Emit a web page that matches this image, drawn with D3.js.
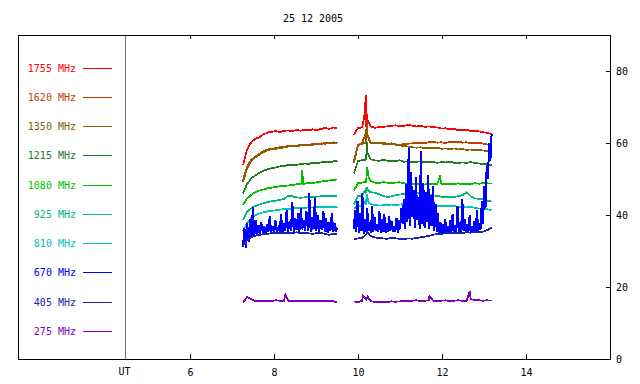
<!DOCTYPE html>
<html>
<head>
<meta charset="utf-8">
<script src="https://cdn.jsdelivr.net/npm/d3@7"></script>
<style>
  body { margin:0; background:#fff; }
  text { font-family:"DejaVu Sans Mono", monospace; font-size:10px; }
</style>
</head>
<body>
<div id="chart"></div>
<script>
// radio flux, 25 12 2005 -- two observing runs
let title = "25 12 2005"
let freqs  = ["1755","1620","1350","1215","1080","925","810","670","405","275"]
let colors = ["#ff0000","#c04000","#886000","#237a23","#00c000","#00b878","#00c0c0","#0000ff","#2020b0","#8000c0"]
let xTicks = [6,8,10,12,14]
let yTicks = [0,20,40,60,80]
let run1 = [7.26, 9.51]
let run2 = [9.90, 13.18]

// first run / second run samples
let f1755a = [53.8,58.2,60.2,61.2,61.6,62.4,62.9,63.1,63.3,63.0,63.4,63.5,63.3,63.6,63.4,63.7,63.5,63.8,63.6,63.9,64.2,63.9,64.3,64.0]
let f1755b = [62.3,64.2,64.3,64.4,64.6,64.2,64.4,64.5,64.6,64.8,64.9,64.7,64.8,65.0,64.8,64.6,64.7,64.5,64.6,64.4,64.3,64.0,64.1,63.8,63.9,63.6,63.5,63.7,63.3,63.4,63.2,63.0,62.8,62.5]
let f1620a = [49.6,53.5,55.3,56.3,57.0,57.8,58.2,58.4,58.6,58.8,59.0,59.1,59.0,59.3,59.4,59.5,59.4,59.7,59.8,59.7,60.0,60.1,59.9,60.2]
let f1620b = [55.0,59.5,60.0,60.4,60.2,60.0,60.1,60.0,59.8,59.9,59.6,59.5,59.7,59.8,59.9,60.0,60.1,60.0,60.2,60.3,60.1,60.2,60.0,60.3,60.2,60.4,60.1,60.2,60.0,59.9,60.1,59.8,59.6,59.4]
let f1350a = [49.2,53.0,55.0,56.0,56.8,57.5,58.0,58.3,58.4,58.6,58.8,59.0,59.2,59.1,59.3,59.5,59.6,59.5,59.7,59.9,59.8,60.0,60.2,60.0]
let f1350b = [54.5,59.3,59.8,60.2,60.0,59.9,60.0,59.8,59.7,59.8,59.5,59.3,59.2,59.0,58.8,58.7,58.8,58.6,58.7,58.5,58.6,58.4,58.5,58.3,58.5,58.2,58.3,58.1,58.2,58.0,58.1,57.9,57.8,57.6]
let f1215a = [46.0,48.6,50.2,51.0,51.7,52.3,52.7,53.0,53.2,53.5,53.6,53.9,54.0,53.9,54.1,54.3,54.2,54.5,54.4,54.6,54.7,54.6,54.9,55.0]
let f1215b = [51.5,55.0,55.2,55.4,55.5,55.2,55.0,55.3,55.1,54.9,55.0,55.2,54.8,54.9,54.7,54.8,54.9,54.6,54.8,54.7,54.5,54.7,54.6,54.8,54.5,54.4,54.6,54.5,54.7,54.4,54.3,54.2,54.1,53.8]
let f1080a = [42.8,44.6,45.6,46.3,46.8,47.1,47.4,47.6,47.8,48.0,48.1,48.2,48.3,48.5,48.6,48.7,48.9,48.9,49.1,49.3,49.4,49.6,49.7,49.9]
let f1080b = [46.8,48.9,49.0,49.2,49.5,49.0,48.9,49.1,49.0,48.9,49.0,49.1,48.8,48.6,48.5,48.6,48.4,48.5,48.6,48.5,48.7,48.6,48.5,48.7,48.6,48.8,48.5,48.7,48.6,48.8,48.7,48.9,48.8,48.7]
let f925a  = [38.6,40.8,41.9,42.5,42.9,43.3,43.6,43.8,44.0,44.2,44.5,45.4,45.2,44.9,44.8,44.9,45.0,45.0,45.1,45.2,45.2,45.3,45.3,45.4]
let f925b  = [43.0,45.2,45.5,46.0,46.3,46.2,45.8,45.3,45.0,45.2,45.5,45.7,45.8,46.0,46.3,46.2,46.0,45.9,45.7,45.5,45.3,45.1,45.0,45.1,45.0,45.2,45.5,46.3,45.2,44.6,44.5,44.4,44.0,43.7]
let f810a  = [35.4,37.8,39.2,39.9,40.4,40.8,41.0,41.2,41.3,41.5,41.6,41.7,41.8,41.9,41.9,42.0,42.1,42.1,42.2,42.2,42.3,42.3,42.2,42.3]
let f810b  = [41.8,42.5,42.6,42.9,43.0,42.8,42.6,42.7,42.8,42.9,42.8,42.9,43.0,43.1,43.0,42.9,42.8,42.9,42.8,42.7,42.6,42.5,42.6,42.4,42.5,42.3,42.2,42.1,42.2,42.0,41.8,41.7,41.6,41.4]
let f670a  = [31.0,36.5,30.8,37.8,32.5,39.0,33.5,42.3,34.0,38.5,34.2,37.2,34.6,38.0,35.0,36.8,34.8,37.5,35.2,39.8,
              35.0,37.0,35.3,38.6,35.1,36.5,35.4,40.2,35.2,37.8,35.5,41.5,35.3,38.2,35.6,43.5,35.2,39.0,35.8,40.5,
              35.4,42.0,36.0,38.5,35.5,41.0,35.7,46.2,35.3,39.5,36.0,44.8,35.6,40.0,35.2,38.7,35.8,41.2,35.4,39.0,
              35.1,38.0,35.6,40.5,35.2,37.8,35.4,36.5]
let f670b  = [36.0,41.5,35.2,44.0,35.0,40.5,35.5,46.2,34.8,39.0,35.2,41.8,35.5,38.0,35.0,42.5,35.3,39.5,35.6,37.5,
              35.2,41.0,35.0,38.8,35.4,40.2,35.1,37.6,35.3,39.8,35.5,38.2,35.2,36.9,35.4,39.2,
              35.0,38.5,36.0,41.8,37.5,44.5,36.0,48.5,38.0,58.5,37.0,52.0,39.5,47.0,36.5,50.5,38.5,45.0,36.0,57.8,
              37.5,49.0,36.5,46.5,38.0,51.0,36.2,45.5,37.0,48.0,35.5,43.0,35.2,40.5,35.0,38.0,34.8,37.5,35.0,39.0,
              34.9,36.8,35.2,38.5,35.0,40.2,35.3,37.2,35.1,42.5,35.4,38.0,35.2,44.5,35.5,39.0,35.0,37.5,35.3,40.0,
              35.2,36.8,35.6,38.2,35.0,41.5,35.5,37.0,36.0,44.0,37.5,48.0,42.0,54.0,50.0,60.0,55.0,62.5]
let f405a  = [31.5,33.0,33.8,34.2,34.5,34.7,34.8,34.9,35.0,35.0,35.1,34.9,35.0,35.2,35.0,35.1,34.9,34.8,35.0,35.1,34.7,34.5,34.8,34.6]
let f405b  = [33.2,33.5,33.7,34.6,34.2,33.8,33.6,33.5,33.4,33.6,33.5,33.4,33.3,33.5,33.4,33.6,33.8,34.0,34.2,34.5,34.7,34.8,34.9,35.0,34.9,35.1,35.0,35.2,35.1,35.3,35.2,35.4,35.8,36.5]
let f275a  = [15.7,17.2,16.6,16.0,16.1,16.2,16.0,16.1,16.3,16.2,16.1,16.2,16.0,16.1,16.2,16.1,16.0,16.2,16.1,16.1,16.0,16.1,16.0,15.7]
let f275b  = [16.0,15.8,16.2,16.5,16.1,15.8,15.8,15.9,15.8,16.0,15.9,16.0,16.1,16.0,16.2,16.3,16.1,16.2,16.3,16.2,16.1,16.2,16.3,16.1,16.2,16.3,16.2,16.2,16.6,16.4,16.3,16.2,16.3,16.2]

// short bursts [hour, value]
let p1755 = [[10.17,69.0],[10.18,73.2],[10.20,68.5],[10.22,66.5]]
let p1620 = [[10.19,63.0],[10.20,66.5],[10.22,62.5]]
let p1350 = [[10.20,64.5],[10.22,62.0]]
let p1215 = [[10.20,58.0],[10.21,60.3],[10.23,57.0]]
let p1080 = [[8.66,49.0],[8.67,52.6],[8.69,48.7],[10.20,51.5],[10.22,53.2],[10.25,50.5],[11.95,50.6]]
let p925  = [[10.18,47.0],[10.20,47.8],[10.24,46.8]]
let p810  = [[10.19,44.2],[10.21,45.7],[10.25,43.5]]
let p670  = []
let p405  = [[10.21,35.3]]
let p275  = [[8.27,17.9],[10.12,17.6],[10.23,17.3],[11.70,17.5],[12.62,17.3],[12.66,18.8]]

let runsA  = [f1755a,f1620a,f1350a,f1215a,f1080a,f925a,f810a,f670a,f405a,f275a]
let runsB  = [f1755b,f1620b,f1350b,f1215b,f1080b,f925b,f810b,f670b,f405b,f275b]
let bursts = [p1755,p1620,p1350,p1215,p1080,p925,p810,p670,p405,p275]

function samples(vals, run){
  let step = (run[1]-run[0])/(vals.length-1)
  return vals.map((v,i)=>({h: run[0]+i*step, v: v}))
}

function render(){
  let width = 640, height = 384

  let xScale = d3.scaleLinear().domain([4.45,16]).range([125,610])
  let yScale = d3.scaleLinear().domain([0,90]).range([359,35])

  let svg = d3.select("#chart").append("svg")
      .attr("width",width).attr("height",height)

  svg.append("text").attr("x",313).attr("y",22).attr("text-anchor","middle").text(title)

  // series
  let line = d3.line().x(d=>xScale(d.h)).y(d=>yScale(d.v))
  let g = svg.append("g")
  freqs.forEach((f,k)=>{
    let a = samples(runsA[k], run1), b = samples(runsB[k], run2)
    bursts[k].forEach(p=>{
      let pt = {h:p[0], v:p[1]}
      if (p[0] < run2[0]) a.push(pt); else b.push(pt)
    })
    ;[a,b].forEach(seg=>{
      seg.sort((m,n)=>m.h-n.h)
      g.append("path")
        .attr("d",line(seg))
        .attr("fill","none")
        .attr("stroke",colors[k])
        .attr("stroke-width", f=="670" ? 2 : 1.8)
        .attr("shape-rendering","crispEdges")
    })
  })

  // legend
  let ly = d3.scalePoint().domain(freqs).range([67.5,330.75])
  let leg = svg.append("g")
  freqs.forEach((f,k)=>{
    let y = Math.round(ly(f))
    leg.append("text").attr("x",76).attr("y",y).attr("dy","0.35em")
       .attr("text-anchor","end").attr("fill",colors[k]).text(f+" MHz")
    leg.append("line").attr("x1",83).attr("x2",112).attr("y1",y+0.5).attr("y2",y+0.5)
       .attr("stroke",colors[k]).attr("stroke-width",1)
  })

  // axes
  let bottom = svg.append("g").attr("transform","translate(0,359)")
      .call(d3.axisBottom(xScale).tickValues(xTicks).tickSize(-5).tickPadding(10).tickFormat(d3.format("d")))
  let top = svg.append("g").attr("transform","translate(0,35)")
      .call(d3.axisTop(xScale).tickValues(xTicks).tickSize(-4).tickFormat(""))
  let right = svg.append("g").attr("transform","translate(610,0)")
      .call(d3.axisRight(yScale).tickValues(yTicks).tickSize(-4).tickPadding(6))
  ;[bottom,top,right].forEach(a=>{
    a.select(".domain").remove()
    a.selectAll("text").attr("fill","#000").style("font-family","DejaVu Sans Mono").style("font-size","10px")
    a.selectAll("line").attr("stroke","#000")
  })

  svg.append("text").attr("x",124.5).attr("y",375).attr("text-anchor","middle").text("UT")

  svg.append("line").attr("x1",125.5).attr("x2",125.5).attr("y1",35.5).attr("y2",359.5)
     .attr("stroke","#707070")
  svg.append("rect").attr("x",18.5).attr("y",35.5).attr("width",592).attr("height",324)
     .attr("fill","none").attr("stroke","#000")
}

render()
</script>
</body>
</html>
